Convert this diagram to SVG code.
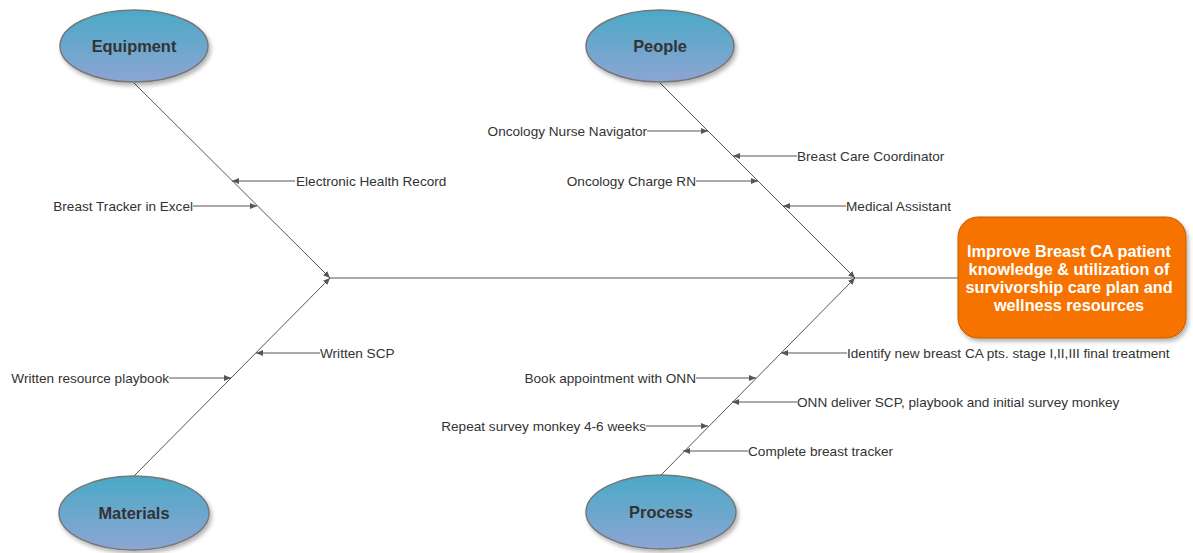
<svg xmlns="http://www.w3.org/2000/svg" width="1193" height="553" viewBox="0 0 1193 553">
<style>
.ln{stroke:#555;stroke-width:1;fill:none}
.br{stroke:#555;stroke-width:1;fill:none;marker-end:url(#ah)}
.lb{font-family:"Liberation Sans",Arial,sans-serif;font-size:13.6px;fill:#333}
.cat{fill:url(#eg);stroke:#777;stroke-width:1.5;filter:url(#sh)}
.ct{font-family:"Liberation Sans",Arial,sans-serif;font-size:16.4px;font-weight:bold;fill:#333;text-anchor:middle}
.ht{font-family:"Liberation Sans",Arial,sans-serif;font-size:16.3px;font-weight:bold;fill:#fff;text-anchor:middle}
</style>
<defs>
<linearGradient id="eg" x1="0" y1="0" x2="0" y2="1">
<stop offset="0" stop-color="#4aa9c7"/>
<stop offset="1" stop-color="#8da5d3"/>
</linearGradient>
<filter id="sh" x="-20%" y="-20%" width="140%" height="150%">
<feDropShadow dx="2" dy="3" stdDeviation="2" flood-color="#000" flood-opacity="0.3"/>
</filter>
<marker id="ah" markerWidth="8" markerHeight="8" refX="7" refY="4" orient="auto" markerUnits="userSpaceOnUse">
<path d="M0,1 L7,4 L0,7 Z" fill="#555"/>
</marker>
</defs>
<g id="connectors">
<line class="ln" x1="330" y1="278" x2="958" y2="278"/>
<line class="br" x1="134" y1="83" x2="330" y2="278"/>
<line class="br" x1="134" y1="476" x2="330" y2="278"/>
<line class="br" x1="660" y1="83" x2="855" y2="278"/>
<line class="br" x1="660" y1="476" x2="855" y2="278"/>
<line class="br" x1="295" y1="181" x2="232" y2="181"/>
<line class="br" x1="193" y1="206" x2="257" y2="206"/>
<line class="br" x1="647" y1="131" x2="708" y2="131"/>
<line class="br" x1="797" y1="156" x2="733" y2="156"/>
<line class="br" x1="696" y1="181" x2="758" y2="181"/>
<line class="br" x1="846" y1="206" x2="783" y2="206"/>
<line class="br" x1="320" y1="353" x2="256" y2="353"/>
<line class="br" x1="169" y1="378" x2="231" y2="378"/>
<line class="br" x1="847" y1="353" x2="781" y2="353"/>
<line class="br" x1="696" y1="378" x2="756" y2="378"/>
<line class="br" x1="797" y1="402" x2="732" y2="402"/>
<line class="br" x1="646" y1="426" x2="708" y2="426"/>
<line class="br" x1="748" y1="451" x2="683" y2="451"/>
</g>
<g id="labels">
<text class="lb" x="296" y="186">Electronic Health Record</text>
<text class="lb" x="193" y="211" text-anchor="end">Breast Tracker in Excel</text>
<text class="lb" x="647" y="136" text-anchor="end">Oncology Nurse Navigator</text>
<text class="lb" x="797" y="161">Breast Care Coordinator</text>
<text class="lb" x="696" y="186" text-anchor="end">Oncology Charge RN</text>
<text class="lb" x="846" y="211">Medical Assistant</text>
<text class="lb" x="320" y="358">Written SCP</text>
<text class="lb" x="169" y="383" text-anchor="end">Written resource playbook</text>
<text class="lb" x="847" y="358">Identify new breast CA pts. stage I,II,III final treatment</text>
<text class="lb" x="696" y="383" text-anchor="end">Book appointment with ONN</text>
<text class="lb" x="797" y="407">ONN deliver SCP, playbook and initial survey monkey</text>
<text class="lb" x="646" y="431" text-anchor="end">Repeat survey monkey 4-6 weeks</text>
<text class="lb" x="748" y="456">Complete breast tracker</text>
</g>
<g id="equipment">
<ellipse class="cat" cx="134" cy="46" rx="74" ry="36"/>
<text class="ct" x="134" y="52">Equipment</text>
</g>
<g id="people">
<ellipse class="cat" cx="660" cy="46" rx="74" ry="36"/>
<text class="ct" x="660" y="52">People</text>
</g>
<g id="materials">
<ellipse class="cat" cx="134" cy="513" rx="75" ry="37"/>
<text class="ct" x="134" y="519">Materials</text>
</g>
<g id="process">
<ellipse class="cat" cx="661" cy="512" rx="75" ry="37"/>
<text class="ct" x="661" y="518">Process</text>
</g>
<g id="head">
<rect x="958" y="217" width="228" height="121" rx="20" ry="20" fill="#f67300" stroke="#c65a00" stroke-width="1" filter="url(#sh)"/>
<text class="ht" x="1069" y="257">Improve Breast CA patient</text>
<text class="ht" x="1069" y="275">knowledge &amp; utilization of</text>
<text class="ht" x="1069" y="293">survivorship care plan and</text>
<text class="ht" x="1069" y="311">wellness resources</text>
</g>
</svg>
